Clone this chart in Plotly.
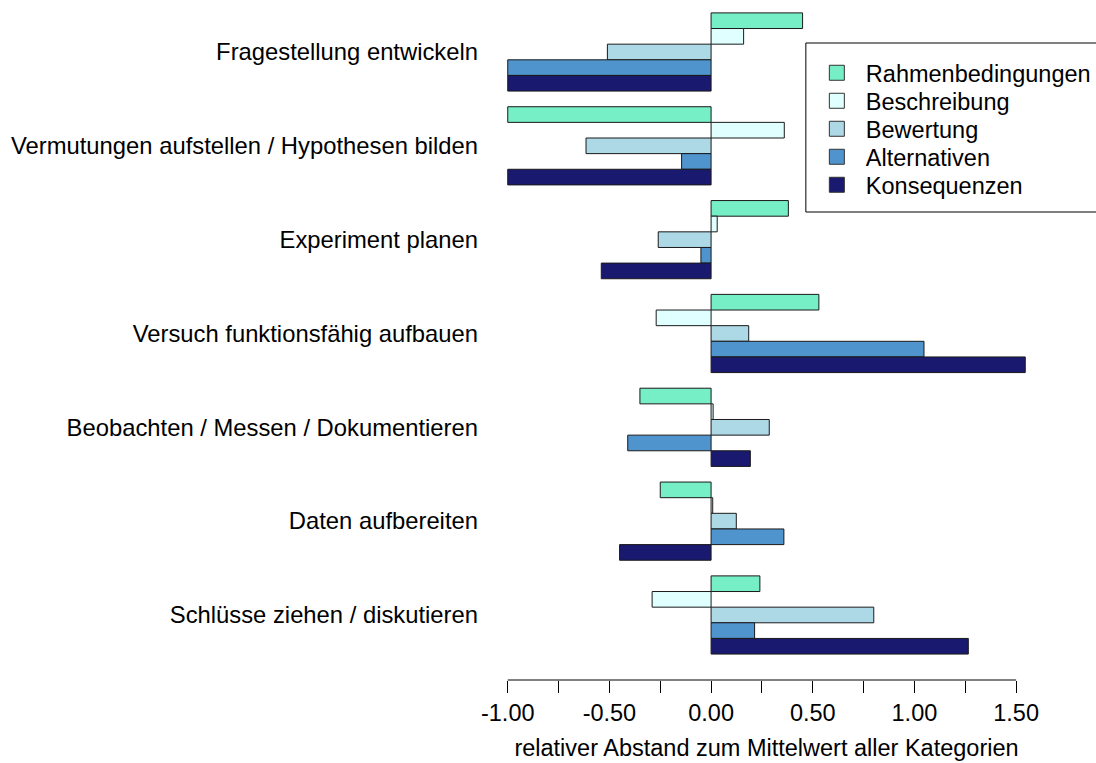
import plotly.graph_objects as go

categories = [
    "Fragestellung entwickeln",
    "Vermutungen aufstellen / Hypothesen bilden",
    "Experiment planen",
    "Versuch funktionsfähig aufbauen",
    "Beobachten / Messen / Dokumentieren",
    "Daten aufbereiten",
    "Schlüsse ziehen / diskutieren",
]

series_names = ["Rahmenbedingungen", "Beschreibung", "Bewertung", "Alternativen", "Konsequenzen"]

rahmenbedingungen = [0.45, -1.00, 0.38, 0.53, -0.35, -0.25, 0.24]
beschreibung = [0.16, 0.36, 0.03, -0.27, 0.01, 0.008, -0.29]
bewertung = [-0.51, -0.615, -0.26, 0.185, 0.286, 0.124, 0.80]
alternativen = [-1.00, -0.145, -0.05, 1.047, -0.41, 0.358, 0.214]
konsequenzen = [-1.00, -1.00, -0.54, 1.545, 0.193, -0.45, 1.265]

series_values = [rahmenbedingungen, beschreibung, bewertung, alternativen, konsequenzen]
colors = ["#76EEC6", "#E0FFFF", "#ADD8E6", "#4F94CD", "#191970"]

tick_values = [-1.0, -0.5, 0.0, 0.5, 1.0, 1.5]
tick_labels = ["-1.00", "-0.50", "0.00", "0.50", "1.00", "1.50"]
minor_tick_values = [-0.75, -0.25, 0.25, 0.75, 1.25]

FONT = "Liberation Sans, Arial, sans-serif"
FS = 23.5
PLOT_H = 680
L = 487

fig = go.Figure()
for i, (name, vals, col) in enumerate(zip(series_names, series_values, colors)):
    fig.add_trace(go.Bar(
        y=categories, x=vals, name=name, orientation="h", showlegend=False,
        marker=dict(color=col, line=dict(color="#1a1a1a", width=1)),
    ))

legend_rows_px = [73, 101, 129, 157, 185]
legends = {}
for i, (name, col) in enumerate(zip(series_names, colors)):
    key = "legend" if i == 0 else f"legend{i + 1}"
    fig.add_trace(go.Scatter(
        x=[None], y=[None], mode="markers", name=name, showlegend=True,
        legend=key,
        marker=dict(symbol="square", size=15, color=col,
                    line=dict(color="#333333", width=1)),
    ))
    legends[key] = dict(
        x=(809 - L) / 561, y=1 - legend_rows_px[i] / PLOT_H,
        xanchor="left", yanchor="middle",
        bgcolor="rgba(0,0,0,0)", borderwidth=0,
        font=dict(family=FONT, size=FS, color="black"),
        itemwidth=48, itemsizing="trace",
    )

fig.update_layout(
    width=1096, height=763,
    margin=dict(l=L, r=1096 - L - 561, t=0, b=83),
    paper_bgcolor="white", plot_bgcolor="white",
    barmode="group", bargap=1/6, bargroupgap=0,
    font=dict(family=FONT, size=FS, color="black"),
    showlegend=True,
    shapes=[
        dict(type="line", xref="x", yref="paper", x0=tick_values[0], x1=tick_values[-1],
             y0=0, y1=0, line=dict(color="black", width=1)),
        dict(type="rect", xref="paper", yref="paper", x0=(807 - L) / 561, x1=1.2,
             y0=1 - 212 / PLOT_H, y1=1 - 43 / PLOT_H, line=dict(color="black", width=1)),
    ],
    **legends,
)

fig.update_xaxes(
    range=[-1.102, 1.647], showgrid=False, zeroline=False, showline=False,
    tickmode="array", tickvals=tick_values, ticktext=tick_labels,
    ticks="outside", ticklen=12, tickcolor="black", tickwidth=1,
    minor=dict(tickmode="array", tickvals=minor_tick_values, ticks="outside",
               ticklen=12, tickcolor="black", tickwidth=1, showgrid=False),
    tickfont=dict(family=FONT, size=FS, color="black"),
    title=dict(text="relativer Abstand zum Mittelwert aller Kategorien",
               font=dict(family=FONT, size=FS, color="black"), standoff=14),
)

fig.update_yaxes(
    type="category", categoryorder="array", categoryarray=categories,
    range=[6.693, -0.554], showgrid=False, zeroline=False, showline=False,
    ticks="", ticklabelstandoff=8,
    tickfont=dict(family=FONT, size=23.8, color="black"),
)

fig.write_html("out.html", config={"displayModeBar": False},
               post_script="document.body.style.margin='0';")
